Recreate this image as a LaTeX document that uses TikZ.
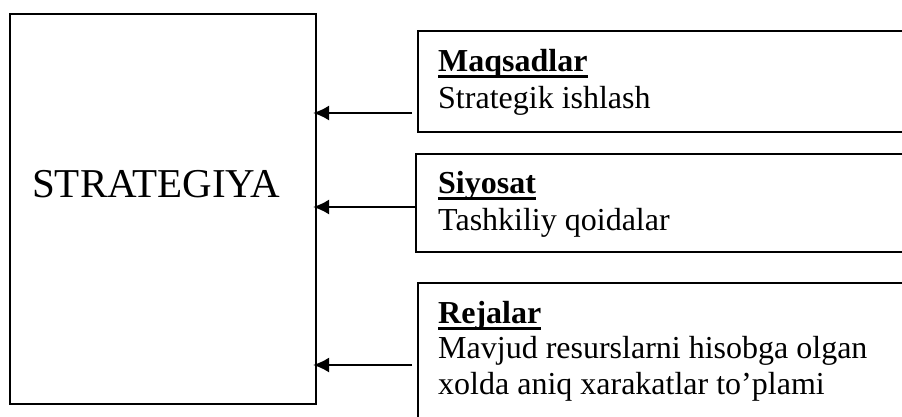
\documentclass[tikz,border=0pt]{standalone}
\usepackage{fontspec}
\setmainfont{Liberation Serif}
\usetikzlibrary{arrows.meta}
\newcommand{\myul}[1]{\setbox0\hbox{#1}\rlap{\rule[-6.5pt]{\wd0}{3pt}}\box0}
\tikzset{
  box/.style={draw, line width=1.3pt, inner sep=0pt, outer sep=0pt, anchor=north west},
  ttl/.style={inner sep=0pt, anchor=base west, font=\fontsize{32}{36}\selectfont\bfseries},
  txt/.style={inner sep=0pt, anchor=base west, font=\fontsize{32}{36}\selectfont},
  arr/.style={line width=2.2pt, -{Latex[length=16pt,width=15pt]}, shorten >=-3pt}
}
\begin{document}
\begin{tikzpicture}[x=1pt,y=-1pt]
\useasboundingbox (0,0) rectangle (902,416);
\clip (0,0) rectangle (902,416);
\fill[white] (0,0) rectangle (902,416);
% left box
\node[box, minimum width=306pt, minimum height=390pt] (strat) at (10,14) {};
\node[inner sep=0pt, anchor=base west, font=\fontsize{41}{45}\selectfont] (stratlabel) at (32,197) {STRATEGIYA};
% right boxes
\node[box, minimum width=600pt, minimum height=101pt] (b1) at (418,31) {};
\node[box, minimum width=600pt, minimum height=98pt] (b2) at (416,154) {};
\node[box, minimum width=600pt, minimum height=200pt] (b3) at (418,283) {};
% texts
\node[ttl] (t1) at (438,71) {\myul{Maqsadlar}};
\node[txt] (d1) at (438,108) {Strategik ishlash};
\node[ttl] (t2) at (438,193) {\myul{Siyosat}};
\node[txt] (d2) at (438,230) {Tashkiliy qoidalar};
\node[ttl] (t3) at (438,323) {\myul{Rejalar}};
\node[txt] (d3a) at (438,358) {Mavjud resurslarni hisobga olgan};
\node[txt] (d3b) at (438,394) {xolda aniq xarakatlar to’plami};
% arrows
\coordinate (a1) at (412,113);
\coordinate (a2) at (416,207);
\coordinate (a3) at (412,365);
\draw[arr] (a1) -- (strat.east |- a1);
\draw[arr] (a2) -- (strat.east |- a2);
\draw[arr] (a3) -- (strat.east |- a3);
\end{tikzpicture}
\end{document}
